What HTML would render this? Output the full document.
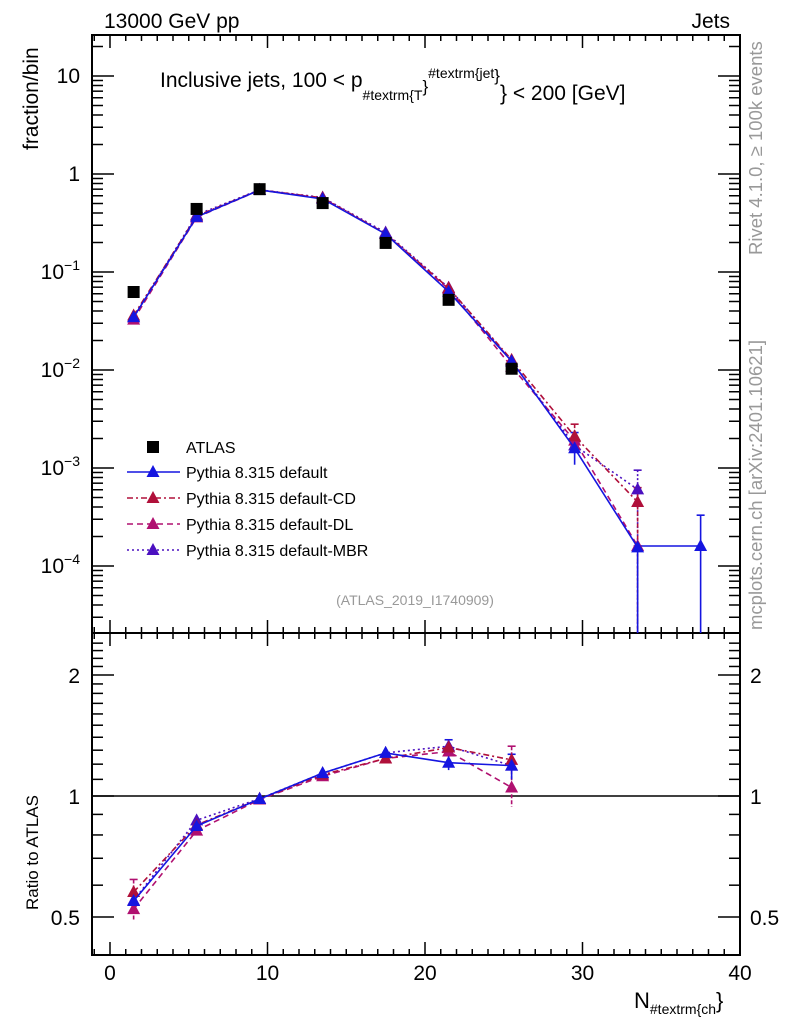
<!DOCTYPE html>
<html><head><meta charset="utf-8"><style>
body{margin:0;background:#fff;}
svg{display:block;font-family:"Liberation Sans",sans-serif;}
</style></head><body>
<svg id="c" width="786" height="1024" xmlns="http://www.w3.org/2000/svg"></svg>
<script>
const bins=[1.5,5.5,9.5,13.5,17.5,21.5,25.5,29.5,33.5,37.5];
const atlas=[0.0625,0.44,0.70,0.505,0.198,0.052,0.0103];
const mainDefault=[0.0346,0.365,0.687,0.556,0.244,0.063,0.0123,0.00159,0.000155,0.00016];
const mainCD=[0.036,0.373,0.688,0.571,0.246,0.0686,0.0127,0.00211,0.00045];
const mainDL=[0.0327,0.361,0.686,0.566,0.246,0.067,0.0108,0.0019,0.00016];
const mainMBR=[0.0344,0.383,0.69,0.576,0.253,0.0692,0.0123,0.0017,0.000605];
const ratioDefault=[0.548,0.842,0.983,1.14,1.28,1.21,1.19];
const ratioCD=[0.577,0.847,0.983,1.13,1.24,1.32,1.23];
const ratioDL=[0.523,0.82,0.98,1.12,1.24,1.29,1.05];
const ratioMBR=[0.55,0.87,0.985,1.14,1.28,1.33,1.19];
const NS="http://www.w3.org/2000/svg";
const svg=document.getElementById('c');
function el(t,a,p){const e=document.createElementNS(NS,t);for(const k in a)e.setAttribute(k,a[k]);(p||svg).appendChild(e);return e;}
const L=92,R=740,T1=35,B1=633,T2=633,B2=955;
const X=v=>110+15.75*v;
const Y1=v=>174-98*Math.log10(v);
const Y2=v=>796-402*Math.log10(v);
let f1=el('rect',{x:L,y:T1,width:R-L,height:B1-T1,fill:'none',stroke:'#000','stroke-width':2});

let f2=el('rect',{x:L,y:T2,width:R-L,height:B2-T2,fill:'none',stroke:'#000','stroke-width':2});

for(let v=-1;v<=40;v++){const x=X(v);if(x<L)continue;const maj=v%10==0,len=maj?13:6;
 for(const [top,bot] of [[T1,B1],[T2,B2]]){el('line',{x1:x,x2:x,y1:bot,y2:bot-len,stroke:'#000','stroke-width':1.5});el('line',{x1:x,x2:x,y1:top,y2:top+len,stroke:'#000','stroke-width':1.5});}
 if(maj){const t=el('text',{x:x,y:980,'font-size':21,'text-anchor':'middle'});t.textContent=v;}}
for(let d=-5;d<=1;d++){for(let m=1;m<10;m++){const v=m*Math.pow(10,d),y=Y1(v);if(y<T1||y>B1)continue;const len=m==1?22:11;
 el('line',{x1:L,x2:L+len,y1:y,y2:y,stroke:'#000','stroke-width':1.5});el('line',{x1:R,x2:R-len,y1:y,y2:y,stroke:'#000','stroke-width':1.5});}}
const ylab=[['10',1],['1',0],['10',-1],['10',-2],['10',-3],['10',-4]];
ylab.forEach(([b,e])=>{const y=Y1(Math.pow(10,e))+7;const t=el('text',{x:80,y:y,'font-size':21,'text-anchor':'end'});
 if(e===1||e===0){t.textContent=e===1?'10':'1';}else{t.textContent='10';const s=el('tspan',{dy:-9,'font-size':14},t);s.textContent=String(e).replace('-','−');}
 });
for(let v=0.4;v<=2.5;v+=0.1){const r=Math.round(v*10)/10,y=Y2(r);if(y<T2||y>B2)continue;const maj=[0.5,1,2].includes(r);const len=maj?22:11;
 el('line',{x1:L,x2:L+len,y1:y,y2:y,stroke:'#000','stroke-width':1.5});el('line',{x1:R,x2:R-len,y1:y,y2:y,stroke:'#000','stroke-width':1.5});}
[[2,'2'],[1,'1'],[0.5,'0.5']].forEach(([v,s])=>{const y=Y2(v)+8;
 let t=el('text',{x:80,y:y,'font-size':21,'text-anchor':'end'});t.textContent=s;
 t=el('text',{x:750,y:y,'font-size':21});t.textContent=s;});
el('line',{x1:L,x2:R,y1:Y2(1),y2:Y2(1),stroke:'#000','stroke-width':1.5});
function txt(x,y,s,a,name){const t=el('text',Object.assign({x:x,y:y},a));t.textContent=s;return t;}
txt(104,28,'13000 GeV pp',{'font-size':21},'energy-label');
txt(730,28,'Jets',{'font-size':21,'text-anchor':'end'},'process-label');
let tt=txt(160,87,'Inclusive jets, 100 < p',{'font-size':21},'plot-title');
let s1=el('tspan',{dy:13,'font-size':14},tt);s1.textContent='#textrm{T';
let s1b=el('tspan',{dy:-8,'font-size':17},tt);s1b.textContent='}';
let s2=el('tspan',{dy:-14,'font-size':14},tt);s2.textContent='#textrm{jet';
let s2b=el('tspan',{dy:3,'font-size':17},tt);s2b.textContent='}';
let s3=el('tspan',{dy:19,'font-size':21},tt);s3.textContent='} < 200 [GeV]';
txt(38,150,'fraction/bin',{'font-size':21,'text-anchor':'start',transform:'rotate(-90 38 150)'},'y-axis-title');
txt(38,910,'Ratio to ATLAS',{'font-size':17,'text-anchor':'start',transform:'rotate(-90 38 910)'},'ratio-axis-title');
let xt=txt(634,1008,'N',{'font-size':22},'x-axis-title');let xs=el('tspan',{dy:6,'font-size':14},xt);xs.textContent='#textrm{ch';
let xs2=el('tspan',{dy:-6,'font-size':22},xt);xs2.textContent='}';
txt(415,605,'(ATLAS_2019_I1740909)',{'font-size':14,fill:'#999','text-anchor':'middle'},'analysis-id');
txt(762,255,'Rivet 4.1.0, ≥ 100k events',{'font-size':18.5,fill:'#999',transform:'rotate(-90 762 255)'},'rivet-label');
txt(762,630,'mcplots.cern.ch [arXiv:2401.10621]',{'font-size':18.5,fill:'#999',transform:'rotate(-90 762 630)'},'mcplots-label');
function tri(x,y,c,name){const p=el('polygon',{points:`${x},${y-7} ${x-6.5},${y+5} ${x+6.5},${y+5}`,fill:c});}
function series(vals,Y,c,dash,name){
 const pts=vals.map((v,i)=>[X(bins[i]),Y(v)]);
 const pl=el('polyline',{points:pts.map(p=>p.join(',')).join(' '),fill:'none',stroke:c,'stroke-width':1.6,'stroke-dasharray':dash});
 
 pts.forEach(p=>tri(p[0],p[1],c,name+'-point'));}
const cBlue='#1515e0',cCD='#b0103a',cDL='#b01070',cMBR='#4b10c0';
function eb(x,y1,y2,c,dash){el('line',{x1:x,x2:x,y1:y1,y2:y2,stroke:c,'stroke-width':1.6,'stroke-dasharray':dash||''});el('line',{x1:x-4,x2:x+4,y1:y1,y2:y1,stroke:c,'stroke-width':1.6});}
eb(X(29.5),Y1(0.0023),Y1(0.00108),cBlue);
eb(X(29.5),Y1(0.0028),Y1(0.0016),cCD,'4 2');
eb(X(33.5),Y1(0.00095),B1,cMBR,'2 2');
eb(X(33.5),Y1(0.00063),B1,cCD,'4 2');
eb(X(33.5),Y1(0.00016),B1,cBlue);
eb(X(37.5),Y1(0.00033),B1,cBlue);
el('line',{x1:X(33.5),x2:X(37.5),y1:Y1(0.00016),y2:Y1(0.00016),stroke:cBlue,'stroke-width':1.6});
series(mainMBR,Y1,cMBR,'2 3','mbr-main');
series(mainDL,Y1,cDL,'6 4','dl-main');
series(mainCD,Y1,cCD,'6 3 2 3','cd-main');
series(mainDefault.slice(0,9),Y1,cBlue,'','default-main');
tri(X(37.5),Y1(0.00016),cBlue,'default-main-point');
atlas.forEach((v,i)=>{const r=el('rect',{x:X(bins[i])-6,y:Y1(v)-6,width:12,height:12,fill:'#000'});});
eb(X(1.5),Y2(0.62),Y2(0.49),cDL,'4 2');eb(X(21.5),Y2(1.38),Y2(1.16),cBlue);eb(X(25.5),Y2(1.33),Y2(0.94),cDL,'4 2');eb(X(25.5),Y2(1.27),Y2(1.1),cBlue);
series(ratioMBR,Y2,cMBR,'2 3','mbr-ratio');
series(ratioDL,Y2,cDL,'6 4','dl-ratio');
series(ratioCD,Y2,cCD,'6 3 2 3','cd-ratio');
series(ratioDefault,Y2,cBlue,'','default-ratio');
const leg=[['ATLAS','#000',null],['Pythia 8.315 default',cBlue,''],['Pythia 8.315 default-CD',cCD,'6 3 2 3'],['Pythia 8.315 default-DL',cDL,'6 4'],['Pythia 8.315 default-MBR',cMBR,'2 3']];
const legY=[447,472,498,524,550];
leg.forEach(([s,c,d],i)=>{const y=legY[i];
 if(d===null){const r=el('rect',{x:147,y:y-6,width:12,height:12,fill:'#000'});}
 else{el('line',{x1:127,x2:180,y1:y,y2:y,stroke:c,'stroke-width':1.6,'stroke-dasharray':d});tri(153,y,c,'legend-marker');}
 txt(186,y+6,s,{'font-size':16},'legend-entry');});
</script>
</body></html>
